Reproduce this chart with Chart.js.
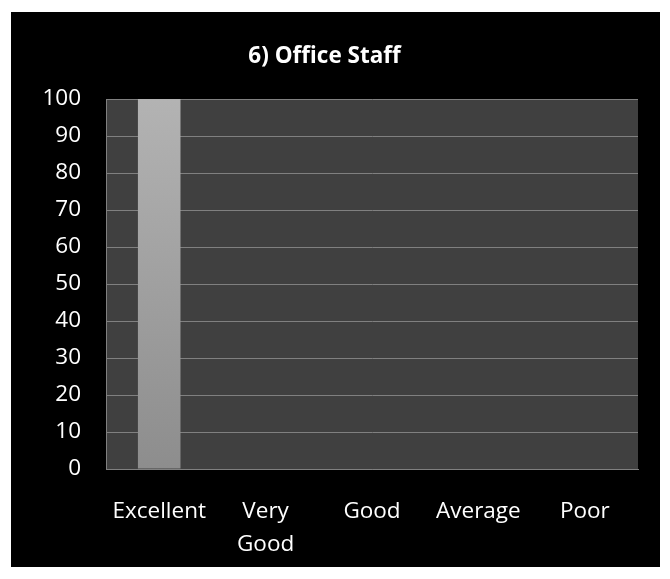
<!DOCTYPE html>
<html>
<head>
<meta charset="utf-8">
<script src="https://cdn.jsdelivr.net/npm/chart.js@4"></script>
<style>
  html, body { margin: 0; padding: 0; background: #fff; }
  #box { position: absolute; left: 11px; top: 12px; width: 649px; height: 555px; background: #000; }
</style>
</head>
<body>
<div id="box"><canvas id="myBarChart" width="649" height="555"></canvas></div>
<script>
const categories = ['Excellent', ['Very', 'Good'], 'Good', 'Average', 'Poor'];
const ratings = [100, 0, 0, 0, 0];
const yTicks = [0, 10, 20, 30, 40, 50, 60, 70, 80, 90, 100];

document.addEventListener('DOMContentLoaded', function() {
    const ctx = document.getElementById('myBarChart').getContext('2d');

    // dark gray plot area behind the grid
    const plotBg = {
        id: 'plotBg',
        beforeDraw(chart) {
            const a = chart.chartArea;
            chart.ctx.save();
            chart.ctx.fillStyle = '#404040';
            chart.ctx.fillRect(a.left, a.top, a.right - a.left, a.bottom - a.top);
            chart.ctx.restore();
        }
    };

    new Chart(ctx, {
        type: 'bar',
        data: {
            labels: categories,
            datasets: [{
                label: 'Office Staff',
                data: ratings,
                backgroundColor: function(c) {
                    const a = c.chart.chartArea;
                    if (!a) return '#a0a0a0';
                    const g = c.chart.ctx.createLinearGradient(0, a.top, 0, a.bottom);
                    g.addColorStop(0, '#b3b3b3');
                    g.addColorStop(1, '#8d8d8d');
                    return g;
                },
                borderWidth: 0,
                barPercentage: 0.4,
                categoryPercentage: 1.0
            }]
        },
        options: {
            responsive: false,
            animation: false,
            layout: { padding: { left: 0, right: 22, top: 0, bottom: 0 } },
            plugins: {
                legend: { display: false },
                tooltip: { enabled: false },
                title: {
                    display: true,
                    text: '6) Office Staff',
                    color: '#ffffff',
                    font: { family: 'Open Sans', size: 22.5, weight: 'bold', lineHeight: 1.2 },
                    padding: { top: 31, bottom: 29 }
                }
            },
            scales: {
                x: {
                    grid: { display: false, drawTicks: false },
                    border: { display: true, color: '#808080', width: 1 },
                    ticks: {
                        color: '#ffffff',
                        padding: 26,
                        maxRotation: 0,
                        autoSkip: false,
                        font: { family: 'Open Sans', size: 22.5, lineHeight: 1.47 }
                    },
                    afterFit: function(s) { s.height = 98; }
                },
                y: {
                    min: 0,
                    max: 100,
                    afterBuildTicks: function(s) { s.ticks = yTicks.map(v => ({ value: v })); },
                    grid: { color: '#808080', lineWidth: 1, drawTicks: false },
                    border: { display: true, color: '#808080', width: 1 },
                    ticks: {
                        color: '#ffffff',
                        padding: 25,
                        font: { family: 'Open Sans', size: 22.5 }
                    },
                    afterFit: function(s) { s.width = 95; }
                }
            }
        },
        plugins: [plotBg]
    });
});
</script>
</body>
</html>
